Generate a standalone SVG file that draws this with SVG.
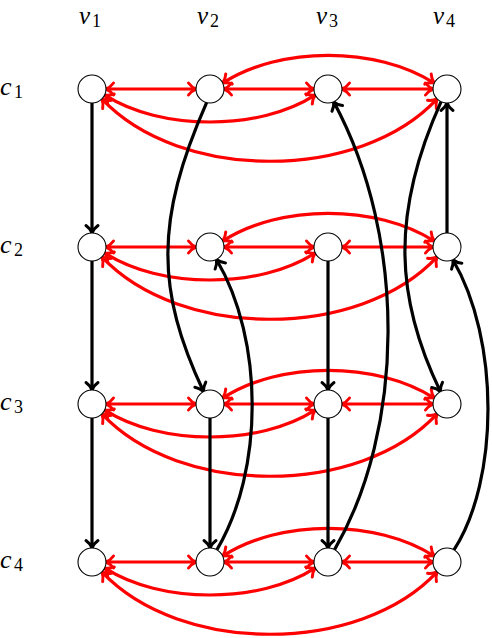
<svg xmlns="http://www.w3.org/2000/svg" width="492" height="638" viewBox="0 0 492 638">
<defs>
<marker id="ar" viewBox="-10 -10 20 20" markerWidth="20" markerHeight="20" refX="0" refY="0" orient="auto-start-reverse" markerUnits="userSpaceOnUse"><path d="M-7.5,-6 C-5,-2.5 -2,-0.8 0,0 C-2,0.8 -5,2.5 -7.5,6" fill="none" stroke="#ff0000" stroke-width="3" stroke-linecap="round" stroke-linejoin="round"/></marker>
<marker id="ab" viewBox="-10 -10 20 20" markerWidth="20" markerHeight="20" refX="0" refY="0" orient="auto" markerUnits="userSpaceOnUse"><path d="M-7.5,-6 C-5,-2.5 -2,-0.8 0,0 C-2,0.8 -5,2.5 -7.5,6" fill="none" stroke="#000" stroke-width="3" stroke-linecap="round" stroke-linejoin="round"/></marker>
</defs>
<style>
.nd{fill:#fff;stroke:#000;stroke-width:1.1}
.r{fill:none;stroke:#ff0000;stroke-width:3.2;marker-start:url(#ar);marker-end:url(#ar)}
.b{fill:none;stroke:#000;stroke-width:3.2;marker-end:url(#ab)}
</style>
<g id="labels" font-family="'Liberation Serif', 'Times New Roman', serif" font-style="italic" font-size="26" fill="#000">
<text x="79" y="23.5" font-size="25">v<tspan font-style="normal" font-size="18" dx="2" dy="3">1</tspan></text>
<text x="197" y="23.5" font-size="25">v<tspan font-style="normal" font-size="18" dx="2" dy="3">2</tspan></text>
<text x="316" y="23.5" font-size="25">v<tspan font-style="normal" font-size="18" dx="2" dy="3">3</tspan></text>
<text x="433" y="23.5" font-size="25">v<tspan font-style="normal" font-size="18" dx="2" dy="3">4</tspan></text>
<text x="0" y="94.5">c<tspan font-style="normal" font-size="18" dx="2.5" dy="3">1</tspan></text>
<text x="0" y="252.5">c<tspan font-style="normal" font-size="18" dx="2.5" dy="3">2</tspan></text>
<text x="0" y="409.5">c<tspan font-style="normal" font-size="18" dx="2.5" dy="3">3</tspan></text>
<text x="0" y="567.5">c<tspan font-style="normal" font-size="18" dx="2.5" dy="3">4</tspan></text>
</g>
<g id="connectors">
<path class="r" d="M106,89 H196"/>
<path class="r" d="M224,89 H314"/>
<path class="r" d="M342,89 H433"/>
<path class="r" d="M222.7,83.1 C280,46 376,46 434.3,83.1"/>
<path class="r" d="M104.7,94.9 C160,131 260,131 315.3,94.9"/>
<path class="r" d="M101.9,98.9 C180,182 360,182 437.1,98.9"/>
<path class="r" d="M106,247 H196"/>
<path class="r" d="M224,247 H314"/>
<path class="r" d="M342,247 H433"/>
<path class="r" d="M222.7,241.1 C280,204 376,204 434.3,241.1"/>
<path class="r" d="M104.7,252.9 C160,289 260,289 315.3,252.9"/>
<path class="r" d="M101.9,256.9 C180,340 360,340 437.1,256.9"/>
<path class="r" d="M106,404 H196"/>
<path class="r" d="M224,404 H314"/>
<path class="r" d="M342,404 H433"/>
<path class="r" d="M222.7,398.1 C280,361 376,361 434.3,398.1"/>
<path class="r" d="M104.7,409.9 C160,446 260,446 315.3,409.9"/>
<path class="r" d="M101.9,413.9 C180,497 360,497 437.1,413.9"/>
<path class="r" d="M106,562 H196"/>
<path class="r" d="M224,562 H314"/>
<path class="r" d="M342,562 H433"/>
<path class="r" d="M222.7,556.1 C280,519 376,519 434.3,556.1"/>
<path class="r" d="M104.7,567.9 C160,604 260,604 315.3,567.9"/>
<path class="r" d="M101.9,571.9 C180,655 360,655 437.1,571.9"/>
<path class="b" d="M92,103 V233"/>
<path class="b" d="M92,261 V390"/>
<path class="b" d="M92,418 V548"/>
<path class="b" d="M210,418 V548"/>
<path class="b" d="M328,261 V390"/>
<path class="b" d="M328,418 V548"/>
<path class="b" d="M447,233 V103"/>
<path class="b" d="M206.6,102.6 C155,220 156,290 203.5,391.5"/>
<path class="b" d="M217,549.6 C264,470 264,340 216.5,259.5"/>
<path class="b" d="M334.6,549.6 C404,430 408,240 333.7,101.8"/>
<path class="b" d="M441.1,101.7 C390,215 396,300 440.4,391.6"/>
<path class="b" d="M454,549.9 C499,480 500,340 452.9,259.7"/>
</g>
<g id="nodes">
<g id="n11"><circle class="nd" cx="92" cy="89" r="14"/></g>
<g id="n12"><circle class="nd" cx="210" cy="89" r="14"/></g>
<g id="n13"><circle class="nd" cx="328" cy="89" r="14"/></g>
<g id="n14"><circle class="nd" cx="447" cy="89" r="14"/></g>
<g id="n21"><circle class="nd" cx="92" cy="247" r="14"/></g>
<g id="n22"><circle class="nd" cx="210" cy="247" r="14"/></g>
<g id="n23"><circle class="nd" cx="328" cy="247" r="14"/></g>
<g id="n24"><circle class="nd" cx="447" cy="247" r="14"/></g>
<g id="n31"><circle class="nd" cx="92" cy="404" r="14"/></g>
<g id="n32"><circle class="nd" cx="210" cy="404" r="14"/></g>
<g id="n33"><circle class="nd" cx="328" cy="404" r="14"/></g>
<g id="n34"><circle class="nd" cx="447" cy="404" r="14"/></g>
<g id="n41"><circle class="nd" cx="92" cy="562" r="14"/></g>
<g id="n42"><circle class="nd" cx="210" cy="562" r="14"/></g>
<g id="n43"><circle class="nd" cx="328" cy="562" r="14"/></g>
<g id="n44"><circle class="nd" cx="447" cy="562" r="14"/></g>
</g>
</svg>
